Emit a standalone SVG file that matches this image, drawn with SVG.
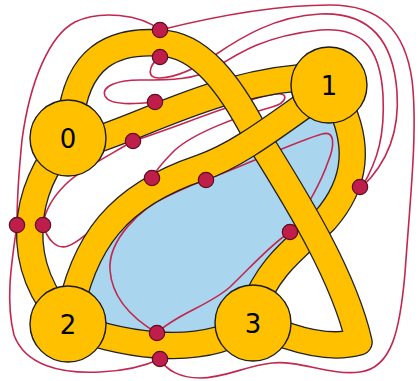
<svg xmlns="http://www.w3.org/2000/svg" width="418" height="381" viewBox="0 0 418 381">
<style>
.face{fill:#A9D5EE;stroke:none}
.curve{fill:none;stroke:#C2284F;stroke-width:1.6}
.bo{fill:none;stroke:#222;stroke-width:27.6;stroke-linejoin:round}
.bf{fill:none;stroke:#FFC000;stroke-width:25;stroke-linejoin:round}
.node circle{fill:#FFC000;stroke:#1a1a1a;stroke-width:1.4}
.node text{font-family:"DejaVu Sans",sans-serif;font-size:26px;fill:#000;text-anchor:middle}
.dot{fill:#C01E4A;stroke:#5B0F22;stroke-width:1.2}
</style>
<defs>
<path id="e02" d="M68,138 C22,190 12,265 68,324"/>
<path id="e23" d="M68,324 C110,342 200,362 253,323"/>
<path id="e01" d="M80,145 C150,125 220,78 329,76"/>
<path id="e31" d="M338,100 C358,140 360,180 325,220 C300,245 268,265 253,310"/>
<path id="eA" d="M70,125 C76,55 115,40 160,43 C200,44 230,85 255,133 C285,182 342,268 359,342 Q330,350 288,336 L253,323"/>
<path id="e12" d="M68,324 C82,240 120,195 200,168 C240,155 285,118 329,88"/>
</defs>
<path class="face" d="M68,324 C82,240 120,195 200,168 C240,155 285,118 329,88 L338,100 C358,140 360,180 325,220 C300,245 268,265 253,310 L253,323 C200,362 110,342 68,324 Z"/>
<g id="curves">
<path class="curve" d="M160,30 C140,14 100,10 75,22 C50,35 30,80 22,140 C19,170 17,200 17,225 C12,260 5,300 14,335 C25,365 60,374 100,372 C125,371 145,366 160,359"/>
<path class="curve" d="M160,30 C200,20 270,5 330,5 C380,5 405,30 412,80 C418,130 410,200 405,273 C400,330 392,368 360,372 C330,376 300,360 272,363 C245,366 225,378 200,378 C180,378 166,370 160,359"/>
<path class="curve" d="M160,57 C148,66 146,79 160,78 C178,77 198,67 215,55 C240,38 275,16 320,14 C365,12 393,35 397,92 C400,135 385,165 362,187"/>
<path class="curve" d="M155,102 C135,104 110,106 105,96 C101,86 118,80 140,80 C170,80 195,80 215,68 C240,52 265,36 320,30 C360,27 380,45 383,95 C385,135 378,160 362,187"/>
<path class="curve" d="M133,141 C180,126 240,100 275,94 C290,92 287,103 272,107 C240,116 195,132 175,150 C165,160 156,170 152,178"/>
<path class="curve" d="M133,141 C110,155 80,170 65,185 C52,198 45,212 43,224"/>
<path class="curve" d="M43,224 C47,240 57,250 68,246 C85,240 110,210 152,178"/>
<path class="curve" d="M206,180 C250,163 300,140 322,134 C335,130 335,145 328,162 C320,185 305,210 290,232"/>
<path class="curve" d="M290,232 C270,245 250,268 230,287 C210,305 175,315 157,333"/>
<path class="curve" d="M157,333 C135,320 112,300 110,270 C108,240 140,208 170,195 C185,188 196,183 206,180"/>
</g>
<g id="connectors">
<use href="#e02" class="bo"/><use href="#e02" class="bf"/>
<use href="#e23" class="bo"/><use href="#e23" class="bf"/>
<use href="#e01" class="bo"/><use href="#e01" class="bf"/>
<use href="#e31" class="bo"/><use href="#e31" class="bf"/>
<use href="#eA" class="bo"/><use href="#eA" class="bf"/>
<use href="#e12" class="bo"/><use href="#e12" class="bf"/>
</g>
<g id="n0" class="node"><circle cx="68" cy="138" r="38"/><text x="68" y="147.5">0</text></g>
<g id="n1" class="node"><circle cx="329" cy="85" r="38"/><text x="329" y="94.5">1</text></g>
<g id="n2" class="node"><circle cx="68" cy="324" r="38"/><text x="68" y="333.5">2</text></g>
<g id="n3" class="node"><circle cx="253" cy="323" r="38"/><text x="253" y="332.5">3</text></g>
<g id="dots">
<circle class="dot" cx="160" cy="30" r="7.7"/>
<circle class="dot" cx="160" cy="57" r="7.7"/>
<circle class="dot" cx="155" cy="102" r="7.7"/>
<circle class="dot" cx="133" cy="141" r="7.7"/>
<circle class="dot" cx="152" cy="178" r="7.7"/>
<circle class="dot" cx="206" cy="180" r="7.7"/>
<circle class="dot" cx="17" cy="225" r="7.7"/>
<circle class="dot" cx="43" cy="225" r="7.7"/>
<circle class="dot" cx="157" cy="333" r="7.7"/>
<circle class="dot" cx="160" cy="359" r="7.7"/>
<circle class="dot" cx="360" cy="187" r="7.7"/>
<circle class="dot" cx="290" cy="232" r="7.7"/>
</g>
</svg>
